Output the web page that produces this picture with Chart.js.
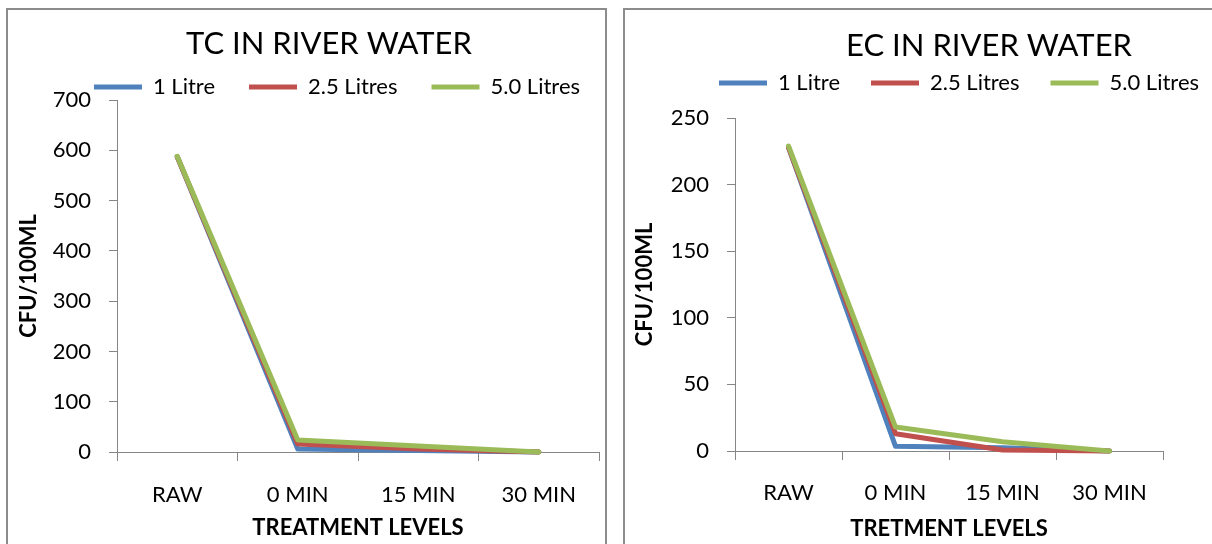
<!DOCTYPE html>
<html>
<head>
<meta charset="utf-8">
<script src="https://cdn.jsdelivr.net/npm/chart.js@4.4.1/dist/chart.umd.min.js"></script>
<style>
  html, body { margin: 0; padding: 0; width: 1212px; height: 544px; overflow: hidden; background: #fff; }
  .box { position: absolute; box-sizing: border-box; border: 2px solid #8c8c8c; border-bottom: none; }
  canvas { position: absolute; top: 0; }
</style>
</head>
<body>
<div class="box" style="left:6px; top:8px; width:601px; height:600px;"></div>
<div class="box" style="left:623px; top:8px; width:700px; height:600px;"></div>
<canvas id="tc" width="612" height="544" style="left:0px;"></canvas>
<canvas id="ec" width="600" height="544" style="left:612px;"></canvas>
<script>
// ---- data ----
const categories = ['RAW', '0 MIN', '15 MIN', '30 MIN'];
const seriesNames = ['1 Litre', '2.5 Litres', '5.0 Litres'];
const seriesColors = ['#4F81BD', '#C0504D', '#9BBB59'];

const tcTitle = 'TC IN RIVER WATER';
const tc1 = [587, 6, 3, 0];
const tc25 = [587, 16, 6, 0];
const tc5 = [588, 24, 12, 0];
const tcTicks = [0, 100, 200, 300, 400, 500, 600, 700];
const tcXTitle = 'TREATMENT LEVELS';

const ecTitle = 'EC IN RIVER WATER';
const ec1 = [228, 3.5, 2.5, 0];
const ec25 = [228, 13, 0.7, 0];
const ec5 = [229, 18, 7, 0];
const ecTicks = [0, 50, 100, 150, 200, 250];
const ecXTitle = 'TRETMENT LEVELS';

const yTitle = 'CFU/100ML';

Chart.defaults.font.family = 'Lato, "Open Sans", sans-serif';
Chart.defaults.color = '#000';

const LEGEND_FONT = 22;

function placeBlocks(spec) {
  return {
    id: 'placeBlocks',
    afterLayout(chart) {
      const t = chart.titleBlock;
      if (t) {
        const dx = spec.titleX - (t.left + t.right) / 2;
        const dy = spec.titleY - (t.top + t.bottom) / 2;
        t.left += dx; t.right += dx; t.top += dy; t.bottom += dy;
      }
      const l = chart.legend;
      if (l) {
        const dx = spec.legendX - (l.left + l.right) / 2;
        const dy = spec.legendY - (l.top + spec.legendPad + LEGEND_FONT / 2);
        l.left += dx; l.right += dx; l.top += dy;
        l.bottom = l.top + spec.legendPad + LEGEND_FONT + 20;
        l.height = l.bottom - l.top;
      }
    }
  };
}

function makeChart(id, spec) {
  const values = spec.values;
  const datasets = seriesNames.map((name, i) => ({
    label: name,
    data: values[i],
    borderColor: seriesColors[i],
    backgroundColor: seriesColors[i],
    borderWidth: 5,
    borderCapStyle: 'round',
    borderJoinStyle: 'round',
    pointRadius: 0,
    pointHoverRadius: 0,
    tension: 0,
    fill: false,
    clip: false,
    order: seriesNames.length - i
  }));
  const titleFont = 31;
  const topBoxes = titleFont * 1.2 + 30;
  return new Chart(document.getElementById(id), {
    type: 'line',
    data: { labels: categories, datasets },
    options: {
      responsive: false,
      animation: false,
      events: [],
      layout: {
        padding: { left: 0, right: spec.W - spec.right, top: spec.top - topBoxes, bottom: 0 }
      },
      plugins: {
        title: {
          display: true,
          text: spec.title,
          color: '#000',
          font: { size: titleFont, weight: 'normal' },
          padding: 0
        },
        legend: {
          display: true,
          position: 'top',
          maxHeight: 30,
          labels: {
            usePointStyle: true,
            pointStyle: 'line',
            pointStyleWidth: 48,
            padding: spec.legendPad,
            color: '#000',
            font: { size: LEGEND_FONT },
            sort: (a, b) => a.datasetIndex - b.datasetIndex
          }
        },
        tooltip: { enabled: false }
      },
      scales: {
        x: {
          type: 'category',
          offset: true,
          grid: { display: true, drawOnChartArea: false, drawTicks: true, tickLength: 9, color: '#868686', offset: true },
          border: { display: true, color: '#868686', width: 1 },
          ticks: { font: { size: 22 }, color: '#000', padding: spec.xTickPad, maxRotation: 0, autoSkip: false },
          title: { display: true, text: spec.xTitle, color: '#000', font: { size: 22, weight: 'bold' }, padding: { top: 0, bottom: spec.xTitlePad } },
          afterFit(scale) { scale.height = 544 - spec.bottom; }
        },
        y: {
          min: 0,
          max: spec.ticks[spec.ticks.length - 1],
          afterBuildTicks(scale) { scale.ticks = spec.ticks.map(v => ({ value: v })); },
          grid: { display: true, drawOnChartArea: false, drawTicks: true, tickLength: 8, color: '#868686' },
          border: { display: true, color: '#868686', width: 1 },
          ticks: { font: { size: 22 }, color: '#000', padding: 18 },
          title: { display: true, text: yTitle, color: '#000', font: { size: 22, weight: 'bold' }, padding: { top: spec.yTitlePad, bottom: 0 } },
          afterFit(scale) { scale.width = spec.left; }
        }
      }
    },
    plugins: [placeBlocks(spec)]
  });
}

makeChart('tc', {
  values: [tc1, tc25, tc5], ticks: tcTicks, title: tcTitle, xTitle: tcXTitle,
  W: 612, left: 117, right: 599, top: 100, bottom: 452,
  titleX: 329, titleY: 44, legendX: 337, legendY: 87, legendPad: 34,
  xTickPad: 21, xTitlePad: 3.3, yTitlePad: 15.8
});
makeChart('ec', {
  values: [ec1, ec25, ec5], ticks: ecTicks, title: ecTitle, xTitle: ecXTitle,
  W: 600, left: 123, right: 551, top: 118, bottom: 451,
  titleX: 377, titleY: 46, legendX: 347, legendY: 83, legendPad: 31,
  xTickPad: 20, xTitlePad: 2.3, yTitlePad: 19.8
});
</script>
</body>
</html>
